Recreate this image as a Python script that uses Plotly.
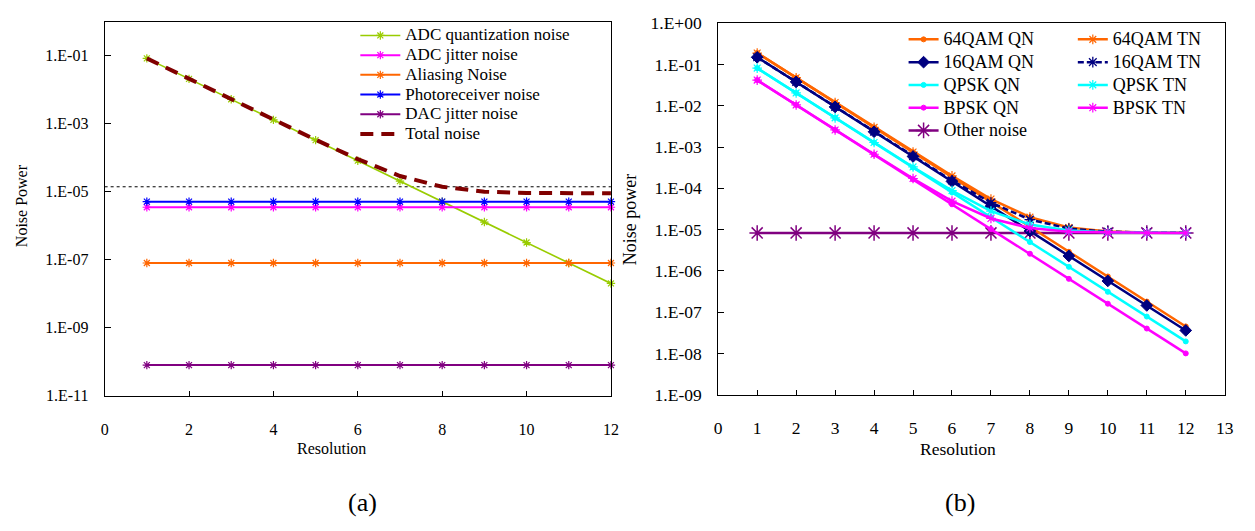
import plotly.graph_objects as go

FONT = "Liberation Serif, Times New Roman, Times, serif"
W, H = 1255, 531

# ---------------- data: panel (a) ----------------
res_a = [1, 2, 3, 4, 5, 6, 7, 8, 9, 10, 11, 12]
adc_quant = [8.4e-2, 2.1e-2, 5.25e-3, 1.3e-3, 3.3e-4, 8.2e-5, 2.05e-5, 5.1e-6, 1.28e-6, 3.2e-7, 8.0e-8, 2.0e-8]
adc_jitter = [3.5e-6, 3.5e-6, 3.5e-6, 3.5e-6, 3.5e-6, 3.5e-6, 3.5e-6, 3.5e-6, 3.5e-6, 3.5e-6, 3.5e-6, 3.5e-6]
aliasing = [8.0e-8, 8.0e-8, 8.0e-8, 8.0e-8, 8.0e-8, 8.0e-8, 8.0e-8, 8.0e-8, 8.0e-8, 8.0e-8, 8.0e-8, 8.0e-8]
photorx = [5.1e-6, 5.1e-6, 5.1e-6, 5.1e-6, 5.1e-6, 5.1e-6, 5.1e-6, 5.1e-6, 5.1e-6, 5.1e-6, 5.1e-6, 5.1e-6]
dac_jitter = [7.9e-11, 7.9e-11, 7.9e-11, 7.9e-11, 7.9e-11, 7.9e-11, 7.9e-11, 7.9e-11, 7.9e-11, 7.9e-11, 7.9e-11, 7.9e-11]
total = [8.4e-2, 2.1e-2, 5.26e-3, 1.31e-3, 3.39e-4, 9.1e-5, 2.9e-5, 1.4e-5, 1.0e-5, 9.2e-6, 9.0e-6, 9.0e-6]
thresh_x = [0, 12]
thresh_y = [1.4e-5, 1.4e-5]

ticks_a = [1e-11, 1e-9, 1e-7, 1e-5, 1e-3, 1e-1]
ticktext_a = ["1.E-11", "1.E-09", "1.E-07", "1.E-05", "1.E-03", "1.E-01"]

# ---------------- data: panel (b) ----------------
res_b = [1, 2, 3, 4, 5, 6, 7, 8, 9, 10, 11, 12]
qam64_qn = [1.9e-1, 4.8e-2, 1.2e-2, 3.0e-3, 7.5e-4, 1.9e-4, 4.7e-5, 1.17e-5, 2.9e-6, 7.3e-7, 1.8e-7, 4.5e-8]
qam64_tn = [1.9e-1, 4.8e-2, 1.2e-2, 3.0e-3, 7.6e-4, 2.0e-4, 5.5e-5, 2.0e-5, 1.12e-5, 9.0e-6, 8.5e-6, 8.35e-6]
qam16_qn = [1.5e-1, 3.8e-2, 9.4e-3, 2.35e-3, 5.9e-4, 1.47e-4, 3.7e-5, 9.2e-6, 2.3e-6, 5.7e-7, 1.45e-7, 3.6e-8]
qam16_tn = [1.5e-1, 3.8e-2, 9.4e-3, 2.36e-3, 6.0e-4, 1.55e-4, 4.5e-5, 1.75e-5, 1.06e-5, 8.9e-6, 8.45e-6, 8.34e-6]
qpsk_qn = [8.2e-2, 2.05e-2, 5.1e-3, 1.28e-3, 3.2e-4, 8.0e-5, 2.0e-5, 5.0e-6, 1.25e-6, 3.1e-7, 7.8e-8, 1.95e-8]
qpsk_tn = [8.2e-2, 2.05e-2, 5.1e-3, 1.29e-3, 3.3e-4, 8.8e-5, 2.8e-5, 1.33e-5, 9.55e-6, 8.6e-6, 8.38e-6, 8.32e-6]
bpsk_qn = [4.2e-2, 1.05e-2, 2.6e-3, 6.6e-4, 1.65e-4, 4.1e-5, 1.03e-5, 2.6e-6, 6.4e-7, 1.6e-7, 4.0e-8, 1.0e-8]
bpsk_tn = [4.2e-2, 1.05e-2, 2.6e-3, 6.7e-4, 1.73e-4, 4.9e-5, 1.86e-5, 1.09e-5, 8.9e-6, 8.46e-6, 8.34e-6, 8.31e-6]
other = [8.3e-6, 8.3e-6, 8.3e-6, 8.3e-6, 8.3e-6, 8.3e-6, 8.3e-6, 8.3e-6, 8.3e-6, 8.3e-6, 8.3e-6, 8.3e-6]

ticks_b = [1e-9, 1e-8, 1e-7, 1e-6, 1e-5, 1e-4, 1e-3, 1e-2, 1e-1, 1e0]
ticktext_b = ["1.E-09", "1.E-08", "1.E-07", "1.E-06", "1.E-05", "1.E-04", "1.E-03", "1.E-02", "1.E-01", "1.E+00"]


def px(x):
    return x / W


def py(y):
    return 1 - y / H


def lname(s, size):
    return "<span style='font-size:%spx'>%s</span>" % (size, s)


fig = go.Figure()

# ---- panel (a) traces ----
A_FS = 17


def a_trace(y, name, color, width=2.0):
    return go.Scatter(
        x=res_a, y=y, name=lname(name, A_FS), mode="lines+markers",
        line=dict(color=color, width=width),
        marker=dict(symbol="asterisk-open", size=7, color=color,
                    line=dict(color=color, width=1.2)),
        xaxis="x", yaxis="y", legend="legend", cliponaxis=False)


fig.add_trace(go.Scatter(x=thresh_x, y=thresh_y, mode="lines", showlegend=False,
                         line=dict(color="black", width=1, dash="dot"),
                         xaxis="x", yaxis="y", hoverinfo="skip"))
fig.add_trace(a_trace(adc_quant, "ADC quantization noise", "#99CC00", 1.6))
fig.add_trace(a_trace(adc_jitter, "ADC jitter noise", "#FF00FF"))
fig.add_trace(a_trace(aliasing, "Aliasing Noise", "#FF6600"))
fig.add_trace(a_trace(photorx, "Photoreceiver noise", "#0000FF"))
fig.add_trace(a_trace(dac_jitter, "DAC jitter noise", "#800080"))
fig.add_trace(go.Scatter(x=res_a, y=total, name=lname("Total noise", A_FS), mode="lines",
                         line=dict(color="#800000", width=4, dash="13px,8px"),
                         xaxis="x", yaxis="y", legend="legend"))

# ---- panel (b) traces ----
B_FS = 18


def b_trace(y, name, color, symbol, size, leg, dash="solid", mlw=1.0):
    return go.Scatter(
        x=res_b, y=y, name=lname(name, B_FS), mode="lines+markers",
        line=dict(color=color, width=2.5, dash=dash),
        marker=dict(symbol=symbol, size=size, color=color,
                    line=dict(color=color, width=mlw)),
        xaxis="x2", yaxis="y2", legend=leg, cliponaxis=False)


fig.add_trace(b_trace(other, "Other noise", "#800080", "asterisk-open", 13, "legend2", mlw=1.5))
fig.add_trace(b_trace(qam64_tn, "64QAM TN", "#FF6600", "asterisk-open", 8, "legend3", mlw=1.2))
fig.add_trace(b_trace(qam64_qn, "64QAM QN", "#FF6600", "circle", 5, "legend2"))
fig.add_trace(b_trace(qam16_tn, "16QAM TN", "#000080", "asterisk-open", 9, "legend3", dash="6px,3px", mlw=1.3))
fig.add_trace(b_trace(qam16_qn, "16QAM QN", "#000080", "diamond", 9, "legend2"))
fig.add_trace(b_trace(qpsk_tn, "QPSK TN", "#00FFFF", "asterisk-open", 8, "legend3", mlw=1.2))
fig.add_trace(b_trace(qpsk_qn, "QPSK QN", "#00FFFF", "circle", 5, "legend2"))
fig.add_trace(b_trace(bpsk_tn, "BPSK TN", "#FF00FF", "asterisk-open", 8, "legend3", mlw=1.2))
fig.add_trace(b_trace(bpsk_qn, "BPSK QN", "#FF00FF", "circle", 5, "legend2"))

axis_common = dict(showline=True, mirror=True, linecolor="black", linewidth=1,
                   showgrid=False, zeroline=False, ticks="inside", tickcolor="black",
                   tickwidth=1)

fig.update_layout(
    width=W, height=H, autosize=False,
    margin=dict(l=0, r=0, t=0, b=0),
    paper_bgcolor="white", plot_bgcolor="white",
    font=dict(family=FONT, color="black"),
    xaxis=dict(domain=[px(101.7), px(613.3)], range=[0, 12], tick0=0, dtick=2,
               ticklen=5, tickfont=dict(family=FONT, size=16), ticklabelstandoff=19,
               anchor="y", **axis_common),
    yaxis=dict(domain=[py(400.7), py(12.3)], type="log", range=[-11, 0],
               tickvals=ticks_a, ticktext=ticktext_a, ticklen=6,
               tickfont=dict(family=FONT, size=16), ticklabelstandoff=12,
               anchor="x", **axis_common),
    xaxis2=dict(domain=[px(721.7), px(1233.5)], range=[0, 13], tick0=0, dtick=1,
                ticklen=5, tickfont=dict(family=FONT, size=17.5), ticklabelstandoff=17,
                anchor="y2", **axis_common),
    yaxis2=dict(domain=[py(399.7), py(13.8)], type="log", range=[-9, 0],
                tickvals=ticks_b, ticktext=ticktext_b, ticklen=6,
                tickfont=dict(family=FONT, size=17.5), ticklabelstandoff=12,
                anchor="x2", **axis_common),
    legend=dict(x=px(355), y=py(11), xanchor="left", yanchor="top",
                font=dict(family=FONT, size=12.85, color="black"),
                bgcolor="rgba(0,0,0,0)", borderwidth=0, itemwidth=40,
                tracegroupgap=0),
    legend2=dict(x=px(909), y=py(13.5), xanchor="left", yanchor="top",
                 font=dict(family=FONT, size=15.2, color="black"),
                 bgcolor="rgba(0,0,0,0)", borderwidth=0, itemwidth=30,
                 tracegroupgap=0, traceorder="normal"),
    legend3=dict(x=px(1080), y=py(13.5), xanchor="left", yanchor="top",
                 font=dict(family=FONT, size=15.2, color="black"),
                 bgcolor="rgba(0,0,0,0)", borderwidth=0, itemwidth=30,
                 tracegroupgap=0),
    showlegend=True,
)

# legend order: QN column then Other noise; TN column
order2 = ["64QAM QN", "16QAM QN", "QPSK QN", "BPSK QN", "Other noise"]
order3 = ["64QAM TN", "16QAM TN", "QPSK TN", "BPSK TN"]
for tr in fig.data:
    for i, n in enumerate(order2):
        if tr.name and ">" + n + "<" in tr.name:
            tr.legendrank = 100 + i
    for i, n in enumerate(order3):
        if tr.name and ">" + n + "<" in tr.name:
            tr.legendrank = 100 + i


def ann(text, x, y, size, angle=0):
    fig.add_annotation(text=text, x=px(x), y=py(y), xref="paper", yref="paper",
                       xanchor="center", yanchor="middle", showarrow=False,
                       textangle=angle, borderpad=0,
                       font=dict(family=FONT, size=size, color="black"))


ann("Resolution", 331, 456, 16)
ann("Noise Power", 18, 203, 16, -90)
ann("Resolution", 964, 456, 17.5)
ann("Noise power", 632, 218, 18, -90)
ann("(a)", 362, 512, 26)
ann("(b)", 966, 512, 26)

fig.write_html("out.html")
